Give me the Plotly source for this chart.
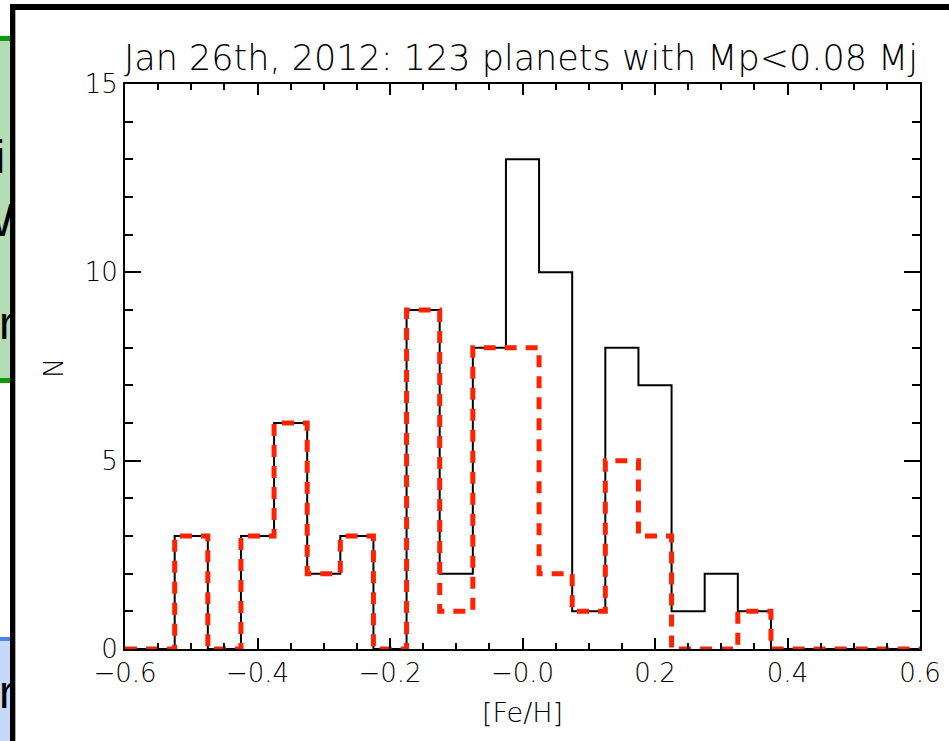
import plotly.graph_objects as go

# Bin centres in [Fe/H] and counts per bin
feh_centers = [-0.60, -0.55, -0.50, -0.45, -0.40, -0.35, -0.30, -0.25, -0.20,
               -0.15, -0.10, -0.05, 0.00, 0.05, 0.10, 0.15, 0.20, 0.25,
               0.30, 0.35, 0.40, 0.45, 0.50, 0.55, 0.60]
counts_all = [0, 0, 3, 0, 3, 6, 2, 3, 0, 9, 2, 8, 13, 10, 1, 8, 7, 1, 2, 1,
              0, 0, 0, 0, 0]
counts_sub = [0, 0, 3, 0, 3, 6, 2, 3, 0, 9, 1, 8, 8, 2, 1, 5, 3, 0, 0, 1,
              0, 0, 0, 0, 0]

x_tick_vals = [-0.6, -0.4, -0.2, 0.0, 0.2, 0.4, 0.6]
x_tick_text = ["\u22120.6", "\u22120.4", "\u22120.2", "\u22120.0", "0.2", "0.4", "0.6"]
y_tick_vals = [0, 5, 10, 15]
y_tick_text = ["0", "5", "10", "15"]

title_text = "Jan 26th, 2012: 123 planets with Mp<0.08 Mj"
x_label = "[Fe/H]"
y_label = "N"

W, H = 949, 741
FONT = "DejaVu Sans"
LIGHT = 200


def px(x):
    return x / W


def py(y):
    return 1 - y / H


fig = go.Figure()

fig.add_trace(go.Scatter(
    x=feh_centers, y=counts_all, mode="lines", line_shape="hvh",
    line=dict(color="black", width=2), cliponaxis=False, showlegend=False,
))
fig.add_trace(go.Scatter(
    x=feh_centers, y=counts_sub, mode="lines", line_shape="hvh",
    line=dict(color="#ff2200", width=5, dash="12px,9px"), cliponaxis=False,
    showlegend=False,
))

# Edge of the neighbouring slide panels, clipped to a narrow strip
strip_text = ["i", "W", "r", "r"]
strip_x = [0, 14, -1, -1]
strip_y = [161, 224, 327, 696]
strip_pos = ["middle center", "middle left", "middle right", "middle right"]
fig.add_trace(go.Scatter(
    x=strip_x, y=strip_y, text=strip_text, mode="text",
    textposition=strip_pos, cliponaxis=True,
    textfont=dict(family="Liberation Sans", size=46, color="black"),
    xaxis="x2", yaxis="y2", showlegend=False, hoverinfo="skip",
))

axis_common = dict(
    showgrid=False, zeroline=False, showline=True, linecolor="black",
    linewidth=2, mirror="allticks", ticks="inside", tickcolor="black",
    tickwidth=2, automargin=False,
    tickfont=dict(family=FONT, size=26, color="black", weight=LIGHT),
)

fig.update_layout(
    width=W, height=H, template="none",
    paper_bgcolor="white", plot_bgcolor="white",
    margin=dict(l=0, r=0, t=0, b=0),
    xaxis=dict(
        domain=[px(125), px(920)], range=[-0.6, 0.6],
        tickmode="array", tickvals=x_tick_vals, ticktext=x_tick_text,
        ticklen=11, minor=dict(dtick=0.05, ticklen=6, tickwidth=2,
                               tickcolor="black", ticks="inside"),
        **axis_common,
    ),
    yaxis=dict(
        domain=[py(649), py(84)], range=[0, 15],
        tickmode="array", tickvals=y_tick_vals, ticktext=y_tick_text,
        ticklen=16, minor=dict(dtick=1, ticklen=8, tickwidth=2,
                               tickcolor="black", ticks="inside"),
        **axis_common,
    ),
    xaxis2=dict(domain=[0, px(10)], range=[0, 10], visible=False,
                anchor="y2"),
    yaxis2=dict(domain=[0, 1], range=[H, 0], visible=False, anchor="x2"),
)

shapes = [
    # green panel
    dict(type="rect", xref="paper", yref="paper", x0=0, x1=px(10),
         y0=py(380), y1=py(38), fillcolor="#b4ddb4", line_width=0,
         layer="below"),
    dict(type="rect", xref="paper", yref="paper", x0=0, x1=px(10),
         y0=py(41), y1=py(36), fillcolor="#119a11", line_width=0),
    dict(type="rect", xref="paper", yref="paper", x0=0, x1=px(10),
         y0=py(383), y1=py(378), fillcolor="#119a11", line_width=0),
    # blue panel
    dict(type="rect", xref="paper", yref="paper", x0=0, x1=px(10),
         y0=0, y1=py(639), fillcolor="#c6d9fb", line_width=0,
         layer="below"),
    dict(type="rect", xref="paper", yref="paper", x0=0, x1=px(10),
         y0=py(641), y1=py(637), fillcolor="#4a86e8", line_width=0),
    # black frame
    dict(type="rect", xref="paper", yref="paper", x0=px(10), x1=1,
         y0=py(10), y1=py(4), fillcolor="black", line_width=0),
    dict(type="rect", xref="paper", yref="paper", x0=px(10), x1=px(15),
         y0=0, y1=py(4), fillcolor="black", line_width=0),
    dict(type="rect", xref="paper", yref="paper", x0=px(15), x1=px(16),
         y0=0, y1=py(10), fillcolor="#aaaaaa", line_width=0),
]
fig.update_layout(shapes=shapes)

fig.add_annotation(
    text=title_text, xref="paper", yref="paper", x=px(521), y=py(58),
    xanchor="center", yanchor="middle", showarrow=False,
    font=dict(family=FONT, size=35, color="black", weight=LIGHT),
)
fig.add_annotation(
    text=x_label, xref="paper", yref="paper", x=px(522), y=py(712),
    xanchor="center", yanchor="middle", showarrow=False,
    font=dict(family=FONT, size=27, color="black", weight=LIGHT),
)
fig.add_annotation(
    text=y_label, xref="paper", yref="paper", x=px(53), y=py(368),
    xanchor="center", yanchor="middle", showarrow=False, textangle=-90,
    font=dict(family=FONT, size=27, color="black", weight=LIGHT),
)

fig.write_html("out.html")
